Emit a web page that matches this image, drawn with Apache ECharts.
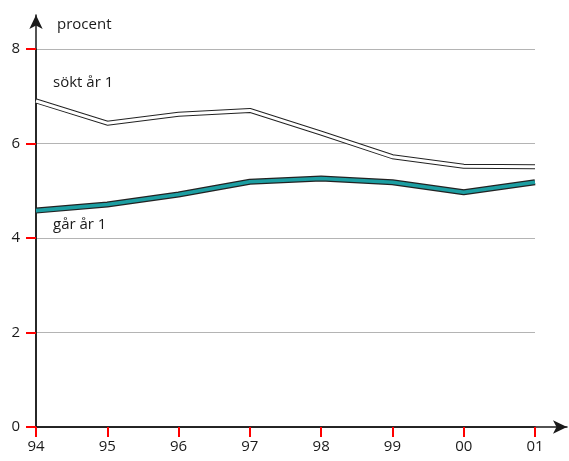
<!DOCTYPE html>
<html>
<head>
<meta charset="utf-8">
<script src="https://cdn.jsdelivr.net/npm/echarts@6/dist/echarts.min.js"></script>
<style>
  html, body { margin: 0; padding: 0; background: #fff; }
  #chart { width: 569px; height: 461px; }
</style>
</head>
<body>
<div id="chart"></div>
<script>
const years = ['94', '95', '96', '97', '98', '99', '00', '01'];
const soktAr1 = [6.9, 6.43, 6.62, 6.7, 6.22, 5.72, 5.52, 5.51];
const garAr1 = [4.58, 4.71, 4.92, 5.19, 5.26, 5.18, 4.97, 5.18];
const yTicks = [0, 2, 4, 6, 8];

const font = 'Open Sans';
const ink = '#1a1a1a';

const toPoints = (vals) => vals.map((v, i) => [i, v]);

const chart = echarts.init(document.getElementById('chart'));

// two stacked strokes give the outlined look of the original lines
const lineSeries = (data, color, width) => ({
  type: 'line',
  xAxisIndex: 0,
  yAxisIndex: 0,
  data: toPoints(data),
  symbol: 'none',
  lineStyle: { color: color, width: width }
});

chart.setOption({
  animation: false,
  grid: [
    { left: 36, right: 34, top: 49, bottom: 34 },
    // frame that carries the arrow heads
    { left: 36, right: 2, top: 15, bottom: 34 }
  ],
  xAxis: [
    {
      gridIndex: 0,
      type: 'value',
      min: 0,
      max: years.length - 1,
      interval: 1,
      axisLine: { show: true, lineStyle: { color: ink, width: 1.5 } },
      axisTick: { show: true, length: 10, lineStyle: { color: 'red', width: 2 } },
      axisLabel: {
        margin: 12,
        color: ink,
        fontFamily: font,
        fontSize: 15,
        formatter: (v) => years[v] || ''
      },
      splitLine: { show: false }
    },
    {
      gridIndex: 1,
      type: 'value',
      min: 0,
      max: 1,
      axisLine: {
        show: true,
        symbol: ['none', 'arrow'],
        symbolSize: [10, 14],
        lineStyle: { color: ink, width: 1.5 }
      },
      axisTick: { show: false },
      axisLabel: { show: false },
      splitLine: { show: false }
    }
  ],
  yAxis: [
    {
      gridIndex: 0,
      type: 'value',
      min: 0,
      max: 8,
      interval: 2,
      axisLine: { show: true, lineStyle: { color: ink, width: 1.5 } },
      axisTick: { show: true, length: 10, lineStyle: { color: 'red', width: 2 } },
      axisLabel: {
        margin: 16,
        color: ink,
        fontFamily: font,
        fontSize: 15,
        formatter: (v) => (yTicks.indexOf(v) >= 0 ? String(v) : '')
      },
      splitLine: { show: true, lineStyle: { color: '#b4b4b4', width: 1 } }
    },
    {
      gridIndex: 1,
      type: 'value',
      min: 0,
      max: 1,
      axisLine: {
        show: true,
        symbol: ['none', 'arrow'],
        symbolSize: [10, 14],
        lineStyle: { color: ink, width: 1.5 }
      },
      axisTick: { show: false },
      axisLabel: { show: false },
      splitLine: { show: false }
    }
  ],
  series: [
    lineSeries(soktAr1, '#222', 5),
    lineSeries(soktAr1, '#fff', 3),
    lineSeries(garAr1, '#222', 6),
    lineSeries(garAr1, '#1c9ea2', 3.6)
  ],
  graphic: [
    { type: 'text', left: 57, top: 17, style: { text: 'procent', fontFamily: font, fontSize: 15, fill: ink } },
    { type: 'text', left: 53, top: 75, style: { text: 'sökt år 1', fontFamily: font, fontSize: 15, fill: ink } },
    { type: 'text', left: 53, top: 217, style: { text: 'går år 1', fontFamily: font, fontSize: 15, fill: ink } }
  ]
});
</script>
</body>
</html>
